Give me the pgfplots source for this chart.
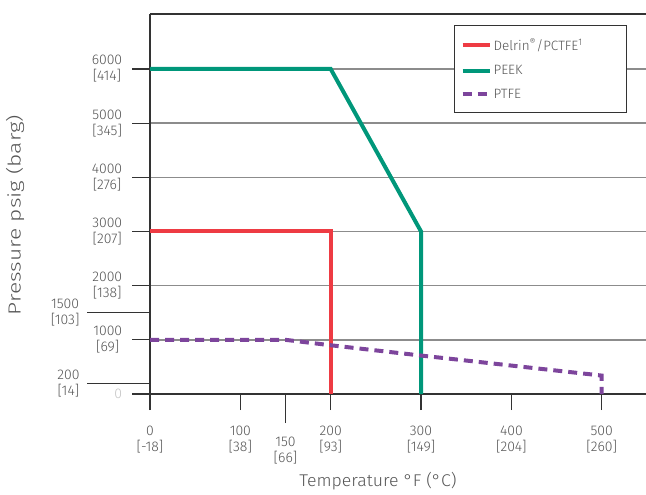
\documentclass[border=0pt]{standalone}
\usepackage{pgfplots}
\pgfplotsset{compat=1.18}
\usepackage{fontspec}
\setmainfont{Fira Sans}[UprightFont=* Light]
\usetikzlibrary{calc}
\definecolor{delrin}{HTML}{EE3B43}
\definecolor{peek}{HTML}{00977A}
\definecolor{ptfe}{HTML}{7D459C}
\definecolor{txt}{HTML}{555555}
\definecolor{axc}{HTML}{333333}
\definecolor{gridc}{HTML}{8C8C8C}
\definecolor{zeroc}{HTML}{C4C4C4}

\begin{document}
\begin{tikzpicture}
\begin{axis}[
  name=ax,
  scale only axis,
  width=496pt, height=380pt,
  xmin=0, xmax=549, ymin=0, ymax=7015,
  axis lines*=left,
  axis line style={color=axc, line width=2.5pt},
  tick align=outside,
  % x ticks
  xtick={0,100,200,300,400,500},
  xticklabels={0\\{[-18]}, 100\\{[38]}, 200\\{[93]}, 300\\{[149]}, 400\\{[204]}, 500\\{[260]}},
  xticklabel style={align=center, font=\fontsize{14}{16}\selectfont, text=txt, yshift=-24pt},
  xtick style={color=axc, line width=1.2pt, /pgfplots/major tick length=16pt},
  extra x ticks={150},
  extra x tick labels={150\\{[66]}},
  extra x tick style={xtick style={/pgfplots/major tick length=29pt}, xticklabel style={yshift=-11pt}},
  % y ticks
  ytick={0,1000,...,6000},
  yticklabels={{\color{zeroc}0}, 1000\\{[69]}, 2000\\{[138]}, 3000\\{[207]}, 4000\\{[276]}, 5000\\{[345]}, 6000\\{[414]}},
  yticklabel style={align=center, font=\fontsize{14}{16}\selectfont, text=txt},
  yticklabel shift=20pt,
  ytick style={color=axc, line width=1.2pt, /pgfplots/major tick length=18pt},
  ymajorgrids,
  grid style={color=gridc, line width=1.5pt},
  extra y ticks={200,1500},
  extra y tick labels={200\\{[14]}, 1500\\{[103]}},
  extra y tick style={grid=none, /pgfplots/major tick length=63pt, yticklabel shift=4pt,
    ytick style={/pgfplots/major tick length=63pt}},
  % legend
  legend style={at={(0.613,0.971)}, anchor=north west, draw=axc, line width=1pt,
    fill=white, font=\fontsize{13.5}{16}\selectfont, text=txt,
    inner xsep=6pt, inner ysep=11pt, row sep=9pt, cells={anchor=west}},
  legend image code/.code={\draw[#1] (0pt,0pt) -- (27pt,0pt);},
]
\addplot[delrin, line width=4pt] coordinates {(0,3000)(200,3000)(200,0)};
\addlegendentry{\makebox[125pt][l]{Delrin\textsuperscript{\textregistered}/PCTFE\textsuperscript{1}}}
\addplot[peek, line width=4pt] coordinates {(0,6000)(200,6000)(300,3000)(300,0)};
\addlegendentry{PEEK}
\addplot[ptfe, line width=4pt, dash pattern=on 9pt off 6pt] coordinates {(0,1000)(150,1000)(200,900)(300,710)(500,340)(500,0)};
\addlegendentry{PTFE}

% top border, no right border
\draw[axc, line width=2.5pt] (rel axis cs:0,1) -- (rel axis cs:1,1);

\coordinate (bl) at (rel axis cs:0,0);
\coordinate (tr) at (rel axis cs:1,1);
\coordinate (ml) at (rel axis cs:0,0.5);
\coordinate (bm) at (rel axis cs:0.5,0);
\end{axis}
% axis titles outside the clipped axis
\node[rotate=90, font=\fontsize{17.5}{20}\selectfont, text=txt] at ($(ml)+(-135pt,-11pt)$) {\scalebox{1.3}[1]{Pressure psig (barg)}};
\node[font=\fontsize{17}{20}\selectfont, text=txt] at ($(bm)+(-20pt,-87pt)$) {\scalebox{1.04}[1]{Temperature °F (°C)}};
\pgfresetboundingbox
\path[use as bounding box] ($(bl)+(-150pt,-100pt)$) rectangle ($(tr)+(0pt,14pt)$);
\end{tikzpicture}
\end{document}
